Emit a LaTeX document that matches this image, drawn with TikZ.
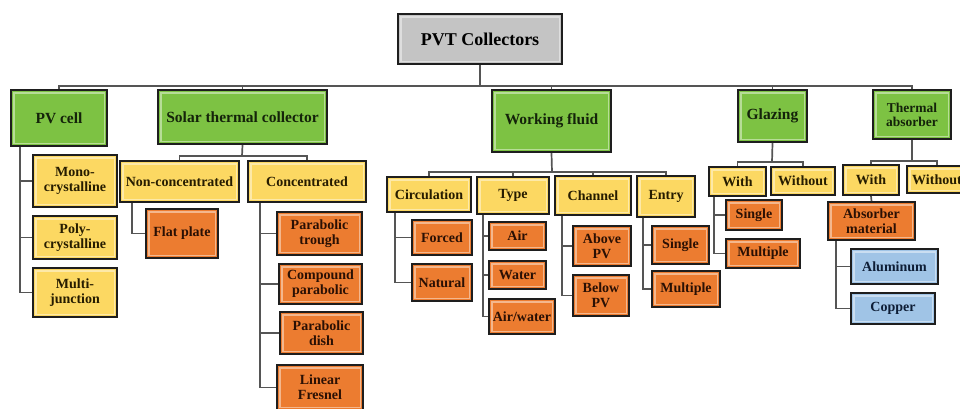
\documentclass[tikz,border=0pt]{standalone}
\usepackage{fontspec}
\setmainfont{Liberation Serif}
\definecolor{cgray}{HTML}{C4C4C4}
\definecolor{cgreen}{HTML}{7DC243}
\definecolor{cyellow}{HTML}{FCD862}
\definecolor{corange}{HTML}{EC7C30}
\definecolor{cblue}{HTML}{A0C4E6}
\definecolor{cborder}{HTML}{1E1E1E}
\definecolor{cline}{HTML}{555555}
\definecolor{tgreen}{HTML}{14230A}
\definecolor{tyellow}{HTML}{261C00}
\definecolor{torange}{HTML}{2A1004}
\definecolor{tblue}{HTML}{0E1E36}
\newcommand\bx[7]{%
  \node[#6, minimum width={(#4-#2)*1pt}, minimum height={(#5-#3)*1pt}] (#1) at ({(#2+#4)/2},{(#3+#5)/2}) {#7};}
\tikzset{
  box/.style={draw=cborder, line width=2pt, inner sep=0pt, align=center, font=\bfseries,
    path picture={\draw[white,opacity=0.45,line width=1.8pt]
      ([shift={(2.6pt,-2.6pt)}]path picture bounding box.north west) rectangle
      ([shift={(-2.6pt,2.6pt)}]path picture bounding box.south east);}},
  rootbox/.style={box, fill=cgray, text=black, font=\bfseries\fontsize{18}{20}\selectfont},
  gbox/.style={box, fill=cgreen, text=tgreen, font=\bfseries\fontsize{15.5}{16}\selectfont},
  gsmall/.style={gbox, font=\bfseries\fontsize{13.5}{14}\selectfont},
  ybox/.style={box, fill=cyellow, text=tyellow, font=\bfseries\fontsize{14}{15}\selectfont},
  obox/.style={box, fill=corange, text=torange, font=\bfseries\fontsize{14}{15}\selectfont},
  bbox/.style={box, fill=cblue, text=tblue, font=\bfseries\fontsize{14}{15}\selectfont},
  conn/.style={draw=cline, line width=1.7pt},
}
\begin{document}
\begin{tikzpicture}[x=1pt,y=-1pt]
\useasboundingbox (0,0) rectangle (960,408);
\clip (0,0) rectangle (960,408);
\fill[white] (0,0) rectangle (960,408);
% connectors are drawn first, boxes on top
\coordinate (bus) at (480,86);
\coordinate (solbus) at (242,156);
\coordinate (wfbus) at (552,172);
\coordinate (glbus) at (772,162);
\coordinate (tabus) at (912,161);
% level 0
\bx{root}{398}{14}{562}{64}{rootbox}{PVT Collectors}
% level 1
\bx{pv}{11}{90}{107}{146}{gbox}{PV cell}
\bx{sol}{158}{90}{327}{144}{gbox}{Solar thermal collector}
\bx{wf}{492}{90}{611}{152}{gbox}{Working fluid}
\bx{gl}{738}{90}{807}{142}{gbox}{Glazing}
\bx{ta}{873}{90}{951}{139}{gsmall}{Thermal\\absorber}
% PV cell children
\bx{mono}{33}{155}{117}{207}{ybox}{Mono-\\crystalline}
\bx{poly}{33}{216}{117}{259}{ybox}{Poly-\\crystalline}
\bx{multi}{33}{268}{117}{317}{ybox}{Multi-\\junction}
% solar thermal children
\bx{nonc}{120}{161}{239}{202}{ybox}{Non-concentrated}
\bx{conc}{248}{161}{366}{202}{ybox}{Concentrated}
\bx{flat}{146}{209}{218}{258}{obox}{Flat plate}
\bx{ptr}{277}{212}{362}{255}{obox}{Parabolic\\trough}
\bx{cpc}{279}{264}{362}{304}{obox}{Compound\\parabolic}
\bx{pdish}{280}{312}{363}{354}{obox}{Parabolic\\dish}
\bx{lfr}{277}{365}{363}{410}{obox}{Linear\\Fresnel}
% working fluid children
\bx{circ}{387}{177}{471}{212}{ybox}{Circulation}
\bx{type}{477}{177}{549}{214}{ybox}{Type}
\bx{chan}{555}{176}{631}{215}{ybox}{Channel}
\bx{entry}{637}{176}{695}{217}{ybox}{Entry}
\bx{forced}{412}{220}{472}{255}{obox}{Forced}
\bx{natural}{412}{264}{472}{301}{obox}{Natural}
\bx{air}{489}{222}{546}{250}{obox}{Air}
\bx{water}{489}{261}{546}{289}{obox}{Water}
\bx{airw}{489}{299}{555}{334}{obox}{Air/water}
\bx{above}{573}{226}{631}{266}{obox}{Above\\PV}
\bx{below}{573}{275}{629}{316}{obox}{Below\\PV}
\bx{esingle}{652}{226}{709}{264}{obox}{Single}
\bx{emult}{652}{271}{720}{307}{obox}{Multiple}
% glazing children
\bx{gwith}{709}{167}{766}{196}{ybox}{With}
\bx{gwo}{771}{167}{835}{195}{ybox}{Without}
\bx{gsingle}{726}{200}{782}{230}{obox}{Single}
\bx{gmult}{726}{239}{800}{268}{obox}{Multiple}
% thermal absorber children
\bx{twith}{843}{165}{899}{195}{ybox}{With}
\bx{two}{907}{166}{967}{193}{ybox}{Without}
\bx{absm}{828}{202}{915}{240}{obox}{Absorber\\material}
\bx{alu}{851}{249}{938}{284}{bbox}{Aluminum}
\bx{cop}{851}{293}{935}{324}{bbox}{Copper}
% connectors level 0-1
\draw[conn] (root.south) -- (bus);
\draw[conn] (pv.north) |- (bus) -| (ta.north);
\draw[conn] (sol.north) -- (sol.north |- bus);
\draw[conn] (wf.north) -- (wf.north |- bus);
\draw[conn] (gl.north) -- (gl.north |- bus);
% PV cell
\draw[conn] ([xshift=10pt]pv.south west) |- (mono.west);
\draw[conn] ([xshift=10pt]pv.south west) |- (poly.west);
\draw[conn] ([xshift=10pt]pv.south west) |- (multi.west);
% solar thermal
\draw[conn] (sol.south) -- (solbus);
\draw[conn] (nonc.north) |- (solbus) -| (conc.north);
\draw[conn] ([xshift=13pt]nonc.south west) |- (flat.west);
\draw[conn] ([xshift=13pt]conc.south west) |- (ptr.west);
\draw[conn] ([xshift=13pt]conc.south west) |- (cpc.west);
\draw[conn] ([xshift=13pt]conc.south west) |- (pdish.west);
\draw[conn] ([xshift=13pt]conc.south west) |- (lfr.west);
% working fluid
\draw[conn] (wf.south) -- (wfbus);
\draw[conn] (circ.north) |- (wfbus) -| (entry.north);
\draw[conn] (type.north) -- (type.north |- wfbus);
\draw[conn] (chan.north) -- (chan.north |- wfbus);
\draw[conn] ([xshift=9pt]circ.south west) |- (forced.west);
\draw[conn] ([xshift=9pt]circ.south west) |- (natural.west);
\draw[conn] ([xshift=7pt]type.south west) |- (air.west);
\draw[conn] ([xshift=7pt]type.south west) |- (water.west);
\draw[conn] ([xshift=7pt]type.south west) |- (airw.west);
\draw[conn] ([xshift=8pt]chan.south west) |- (above.west);
\draw[conn] ([xshift=8pt]chan.south west) |- (below.west);
\draw[conn] ([xshift=7pt]entry.south west) |- (esingle.west);
\draw[conn] ([xshift=7pt]entry.south west) |- (emult.west);
% glazing
\draw[conn] (gl.south) -- (glbus);
\draw[conn] (gwith.north) |- (glbus) -| (gwo.north);
\draw[conn] ([xshift=6pt]gwith.south west) |- (gsingle.west);
\draw[conn] ([xshift=6pt]gwith.south west) |- (gmult.west);
% thermal absorber
\draw[conn] (ta.south) -- (tabus);
\draw[conn] (twith.north) |- (tabus) -| (two.north);
\draw[conn] (twith.south) -- (absm.north);
\draw[conn] ([xshift=9pt]absm.south west) |- (alu.west);
\draw[conn] ([xshift=9pt]absm.south west) |- (cop.west);
\end{tikzpicture}
\end{document}
